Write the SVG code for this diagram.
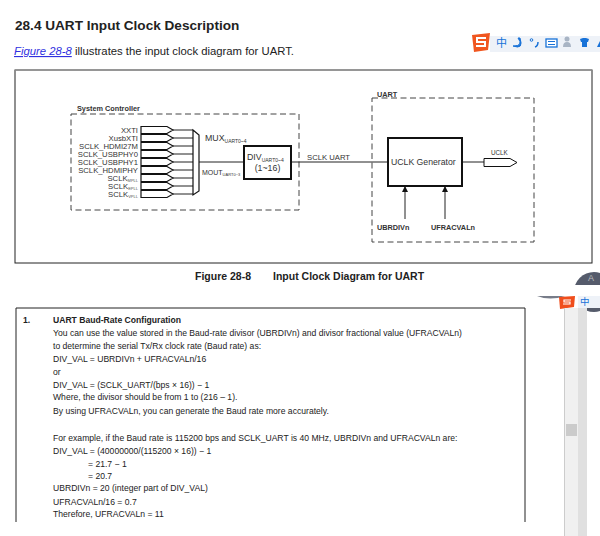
<svg xmlns="http://www.w3.org/2000/svg" width="600" height="536" viewBox="0 0 600 536">
<defs>
<marker id="ah" markerWidth="8" markerHeight="8" refX="5" refY="3" orient="auto" markerUnits="userSpaceOnUse"><path d="M0,0L6,3L0,6Z" fill="#111"/></marker>
<path id="buf" d="M0,-3.5H26L32,0L26,3.5H0Z" fill="#fff" stroke="#111" stroke-width="1.2"/>
</defs>
<style>
text{font-family:"Liberation Sans",Arial,sans-serif;fill:#222}
.b{font-size:8.6px}
.lb{font-size:7.6px;fill:#333}
.lab{font-size:7.7px;text-anchor:end;fill:#333}
.sub{font-size:4px;fill:#555}
.bold{font-weight:bold}
.dash{fill:none;stroke:#444;stroke-width:1;stroke-dasharray:6 3.5}
.ln{fill:none;stroke:#222;stroke-width:1}
.thick{fill:#fff;stroke:#111;stroke-width:2}
</style>
<rect width="600" height="536" fill="#fff"/>
<text x="15" y="30" font-size="13.6" class="bold" fill="#222" style="font-size:13.6px">28.4 UART Input Clock Description</text>
<text x="14" y="55" style="font-size:11.3px;fill:#3030e0;font-style:italic" text-decoration="underline">Figure 28-8</text>
<text x="75" y="55" style="font-size:11.3px">illustrates the input clock diagram for UART.</text>

<rect x="15" y="70" width="577" height="193" fill="#fff" stroke="#222" stroke-width="1"/>
<path d="M15,70H592" stroke="#999" stroke-width="1.5"/>

<g id="system-controller">
<rect class="dash" x="71" y="114" width="228" height="96"/>
<text x="77" y="111" class="lb bold" style="font-size:7.3px">System Controller</text>
</g>
<g id="connectors">
<path class="ln" d="M173,130H193M173,138H193M173,146H193M173,154H193M173,162H193M173,170H193M173,178H193M173,186H193M173,194H193"/>
<path class="ln" d="M199,162H244M291,162H388M462,162H484"/>
<path class="ln" stroke="#222" d="M405,219V187" marker-end="url(#ah)"/>
<path class="ln" d="M445,219V187" marker-end="url(#ah)"/>
</g>
<g id="inputs">
<use href="#buf" x="141" y="130"/><use href="#buf" x="141" y="138"/><use href="#buf" x="141" y="146"/>
<use href="#buf" x="141" y="154"/><use href="#buf" x="141" y="162"/><use href="#buf" x="141" y="170"/>
<use href="#buf" x="141" y="178"/><use href="#buf" x="141" y="186"/><use href="#buf" x="141" y="194"/>
<text class="lab" x="138" y="132.5">XXTI</text>
<text class="lab" x="138" y="140.5">XusbXTI</text>
<text class="lab" x="138" y="148.5">SCLK_HDMI27M</text>
<text class="lab" x="138" y="156.5">SCLK_USBPHY0</text>
<text class="lab" x="138" y="164.5">SCLK_USBPHY1</text>
<text class="lab" x="138" y="172.5">SCLK_HDMIPHY</text>
<text class="lab" x="138" y="180.5">SCLK<tspan class="sub" dy="1.5">MPLL</tspan></text>
<text class="lab" x="138" y="188.5">SCLK<tspan class="sub" dy="1.5">EPLL</tspan></text>
<text class="lab" x="138" y="196.5">SCLK<tspan class="sub" dy="1.5">VPLL</tspan></text>
</g>
<g id="mux">
<path d="M193,130L199,135V191L193,195Z" fill="#fff" stroke="#111" stroke-width="1.2"/>
<text x="205" y="141" style="font-size:8.8px;fill:#333">MUX<tspan style="font-size:5px" dy="1.5">UART0~4</tspan></text>
<text x="202" y="175" style="font-size:7px;fill:#333">MOUT<tspan style="font-size:4px" dy="1">UART0~3</tspan></text>
</g>
<g id="div">
<rect class="thick" x="244" y="146" width="47" height="33"/>
<text x="247" y="160" style="font-size:8.8px;fill:#333">DIV<tspan style="font-size:5px" dy="1.5">UART0~4</tspan></text>
<text x="267.500" y="171" text-anchor="middle" style="font-size:8.8px;fill:#333">(1~16)</text>
</g>
<text x="307" y="160" style="font-size:7.7px;fill:#333">SCLK UART</text>
<g id="uart">
<rect class="dash" x="372" y="98" width="162" height="144"/>
<text x="377" y="96.500" class="lb bold" style="font-size:7.300px">UART</text>
</g>
<g id="uclk-generator">
<rect class="thick" x="388" y="138" width="74" height="48"/>
<text x="391" y="165" style="font-size:8.700px;fill:#333">UCLK Generator</text>
</g>
<g id="uclk">
<path d="M484,158.500H510L517,162.500L510,166.500H484Z" fill="#fff" stroke="#111" stroke-width="1"/>
<text x="491" y="155" style="font-size:6.300px;fill:#333">UCLK</text>
</g>
<text x="377" y="230" class="lb bold" style="font-size:7.300px">UBRDIVn</text>
<text x="431" y="230" class="lb bold" style="font-size:7.300px">UFRACVALn</text>
<text x="195" y="280" class="bold" style="font-size:10.500px">Figure 28-8</text>
<text x="273" y="280" class="bold" style="font-size:10.500px">Input Clock Diagram for UART</text>

<g id="floating-circle">
<circle cx="594" cy="292" r="20" fill="#555b6b"/>
<text x="588" y="281" style="font-size:9px;fill:#bbb">A</text>
</g>
<rect x="530" y="285" width="70" height="23" fill="#fff"/>
<path d="M537,296Q550,301 565,296V285H537Z" fill="#555b6b" opacity="0.8"/>
<rect x="530" y="285" width="70" height="11" fill="#fff"/>
<rect x="578" y="296" width="22" height="12" fill="#eef2f8"/>
<path d="M559,297L575,296L574,307L560,309Z" fill="#f04e1c"/>
<path d="M571,300H564V302H570V304H563" fill="none" stroke="#fff" stroke-width="1.200"/>
<text x="580" y="305" style="font-size:9.500px;fill:#1872d8;font-family:'Noto Sans CJK SC',sans-serif">中</text>
<rect x="565" y="308" width="13" height="228" fill="#f0f0f0"/>
<rect x="578" y="308" width="9" height="228" fill="#e0e0e0"/>
<path d="M564.500,308V536" stroke="#ccc"/>
<rect x="566" y="424" width="11" height="12" fill="#cbcbcb"/>

<path d="M16,522V308H525V522" fill="none" stroke="#222" stroke-width="1"/>
<g id="body">
<text class="b bold" x="23" y="323">1.</text>
<text class="b bold" x="53" y="323">UART Baud-Rate Configuration</text>
<text class="b" x="53" y="336">You can use the value stored in the Baud-rate divisor (UBRDIVn) and divisor fractional value (UFRACVALn)</text>
<text class="b" x="53" y="349">to determine the serial Tx/Rx clock rate (Baud rate) as:</text>
<text class="b" x="53" y="362">DIV_VAL = UBRDIVn + UFRACVALn/16</text>
<text class="b" x="53" y="375">or</text>
<text class="b" x="53" y="388">DIV_VAL = (SCLK_UART/(bps × 16)) − 1</text>
<text class="b" x="53" y="400">Where, the divisor should be from 1 to (216 – 1).</text>
<text class="b" x="53" y="414">By using UFRACVALn, you can generate the Baud rate more accurately.</text>
<text class="b" x="53" y="441">For example, if the Baud rate is 115200 bps and SCLK_UART is 40 MHz, UBRDIVn and UFRACVALn are:</text>
<text class="b" x="53" y="454">DIV_VAL = (40000000/(115200 × 16)) − 1</text>
<text class="b" x="88" y="467">= 21.7 − 1</text>
<text class="b" x="88" y="479">= 20.7</text>
<text class="b" x="53" y="491">UBRDIVn = 20 (integer part of DIV_VAL)</text>
<text class="b" x="53" y="505">UFRACVALn/16 = 0.7</text>
<text class="b" x="53" y="517">Therefore, UFRACVALn = 11</text>
</g>

<g id="ime-toolbar">
<path d="M490,36H600V52H490Z" fill="#eef2f8"/>
<path d="M472,35L490,33L488,50L474,52Z" fill="#f0561f"/>
<path d="M486,38H477V42H485V46H476" fill="none" stroke="#fff" stroke-width="2"/>
<text x="496" y="47" style="font-size:11px;fill:#1872d8;font-family:'Noto Sans CJK SC',sans-serif">中</text>
<path d="M518,38Q524,46 513,46Q524,50 520,38Z" fill="#1872d8" stroke="#1872d8"/>
<circle cx="531.500" cy="40" r="1.300" fill="none" stroke="#1872d8"/>
<path d="M538,42Q538,46 535,47" fill="none" stroke="#1872d8" stroke-width="1.500"/>
<rect x="546" y="39" width="11" height="8" fill="#fff" stroke="#1872d8" stroke-width="1.300"/>
<path d="M548,41.500H555M548,44.500H555" stroke="#1872d8"/>
<circle cx="567" cy="39" r="2.500" fill="#a8b4c4"/>
<path d="M563,47Q563,42 567,42Q571,42 571,47Z" fill="#a8b4c4"/>
<path d="M580,39L583,38H586L589,39L588,42H587V47H582V42H581Z" fill="#1872d8"/>
<path d="M597,47L600,41V47Z" fill="#1872d8"/>
</g>
</svg>
